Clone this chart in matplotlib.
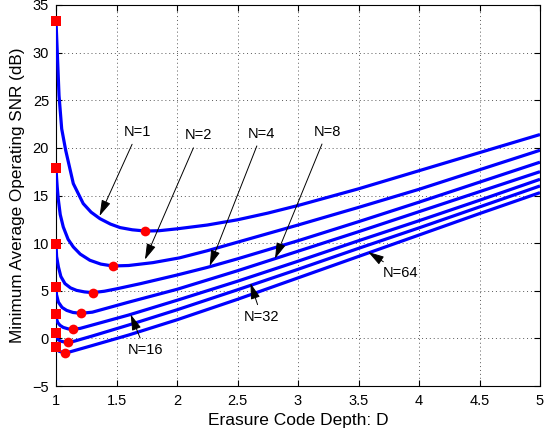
import matplotlib
matplotlib.use("Agg")
import matplotlib.pyplot as plt

plt.rcParams['font.family'] = ['Liberation Sans', 'DejaVu Sans']

# ---- data ----
N_labels = ["N=1", "N=2", "N=4", "N=8", "N=16", "N=32", "N=64"]

D_n1 = [1.0, 1.011, 1.025, 1.047, 1.08, 1.143, 1.225, 1.29, 1.363, 1.45, 1.53, 1.63, 1.737, 1.85, 2.0, 2.25, 2.5, 2.75, 3.0, 3.5, 4.0, 4.5, 5.0]
S_n1 = [33.3, 29.9, 25.5, 22.0, 19.75, 16.25, 14.15, 13.25, 12.57, 12.0, 11.63, 11.4, 11.27, 11.3, 11.5, 11.9, 12.45, 13.15, 13.95, 15.7, 17.6, 19.5, 21.4]

D_n2 = [1.0, 1.005, 1.01, 1.02, 1.035, 1.06, 1.1, 1.143, 1.2, 1.28, 1.37, 1.468, 1.6, 1.8, 2.02, 2.25, 2.5, 2.75, 3.0, 3.5, 4.0, 4.5, 5.0]
S_n2 = [17.9, 16.8, 15.9, 14.5, 13.0, 11.7, 10.4, 9.6, 8.85, 8.2, 7.8, 7.6, 7.65, 7.95, 8.45, 9.2, 10.1, 11.0, 11.9, 13.75, 15.65, 17.7, 19.75]

D_n4 = [1.0, 1.005, 1.02, 1.04, 1.074, 1.12, 1.17, 1.235, 1.303, 1.4, 1.5, 1.7, 2.0, 2.25, 2.5, 3.0, 3.5, 4.0, 4.5, 5.0]
S_n4 = [9.9, 8.6, 7.5, 6.5, 5.75, 5.3, 5.04, 4.88, 4.8, 4.95, 5.2, 5.75, 6.65, 7.45, 8.35, 10.25, 12.25, 14.3, 16.4, 18.5]

D_n8 = [1.0, 1.004, 1.02, 1.05, 1.088, 1.14, 1.204, 1.3, 1.4, 1.6, 2.0, 2.5, 3.0, 3.5, 4.0, 4.5, 5.0]
S_n8 = [5.36, 4.6, 3.8, 3.25, 2.94, 2.72, 2.63, 2.75, 3.1, 3.8, 5.15, 7.1, 9.15, 11.2, 13.3, 15.4, 17.5]

D_n16 = [1.0, 1.005, 1.015, 1.033, 1.06, 1.1, 1.137, 1.2, 1.3, 1.6, 2.0, 2.5, 3.0, 3.5, 4.0, 4.5, 5.0]
S_n16 = [2.52, 2.0, 1.65, 1.37, 1.15, 1.0, 0.95, 1.05, 1.4, 2.45, 4.0, 6.0, 8.1, 10.25, 12.35, 14.5, 16.7]

D_n32 = [1.0, 1.006, 1.019, 1.04, 1.07, 1.10, 1.15, 1.3, 1.6, 2.0, 2.5, 3.0, 3.5, 4.0, 4.5, 5.0]
S_n32 = [0.56, 0.15, -0.15, -0.3, -0.38, -0.42, -0.3, 0.25, 1.4, 3.0, 5.1, 7.25, 9.45, 11.6, 13.8, 16.0]

D_n64 = [1.0, 1.008, 1.025, 1.05, 1.074, 1.12, 1.3, 1.6, 2.0, 2.5, 3.0, 3.5, 4.0, 4.5, 5.0]
S_n64 = [-0.91, -1.15, -1.35, -1.45, -1.5, -1.4, -0.75, 0.35, 1.95, 4.1, 6.35, 8.6, 10.85, 13.1, 15.3]

D_curves = [D_n1, D_n2, D_n4, D_n8, D_n16, D_n32, D_n64]
S_curves = [S_n1, S_n2, S_n4, S_n8, S_n16, S_n32, S_n64]

# starting points (D = 1) and minima
start_D = [1.0] * 7
start_S = [33.3, 17.9, 9.9, 5.36, 2.52, 0.56, -0.91]
min_D = [1.737, 1.468, 1.303, 1.204, 1.137, 1.10, 1.074]
min_S = [11.27, 7.6, 4.8, 2.63, 0.95, -0.42, -1.5]

# annotation text positions and arrow tips (data coords)
text_D = [1.675, 2.18, 2.70, 3.24, 1.736, 2.70, 3.85]
text_S = [21.67, 21.3, 21.5, 21.7, -1.26, 2.24, 6.86]
tip_D = [1.36, 1.735, 2.27, 2.81, 1.617, 2.607, 3.58]
tip_S = [12.85, 8.27, 7.6, 8.37, 2.52, 5.8, 9.07]

xticks = [1, 1.5, 2, 2.5, 3, 3.5, 4, 4.5, 5]
xtick_labels = ["1", "1.5", "2", "2.5", "3", "3.5", "4", "4.5", "5"]
yticks = [-5, 0, 5, 10, 15, 20, 25, 30, 35]
ytick_labels = ["\u22125", "0", "5", "10", "15", "20", "25", "30", "35"]

# ---- plot ----
fig = plt.figure(figsize=(5.45, 4.34), dpi=100)
ax = fig.add_axes([56/545, 48/434, 484/545, 381/434])

for D, S in zip(D_curves, S_curves):
    ax.plot(D, S, color=(0, 0, 1), lw=2.3, solid_capstyle='butt',
            solid_joinstyle='round', zorder=3)

ax.plot(start_D, start_S, linestyle='none', marker='s', color='red',
        markersize=6.5, markeredgewidth=0, zorder=5, clip_on=False)
ax.plot(min_D, min_S, linestyle='none', marker='o', color='red',
        markersize=7, markeredgewidth=0, zorder=5)

for lab, tx, ty, px, py in zip(N_labels, text_D, text_S, tip_D, tip_S):
    ax.annotate(lab, xy=(px, py), xytext=(tx, ty), ha='center', va='center',
                fontsize=10.5, zorder=6,
                arrowprops=dict(arrowstyle='-|>,head_length=0.75,head_width=0.22',
                                mutation_scale=13, color='k', lw=0.7,
                                shrinkA=2, shrinkB=0))

ax.set_xlim(1, 5)
ax.set_ylim(-5, 35)
ax.set_xticks(xticks)
ax.set_xticklabels(xtick_labels)
ax.set_yticks(yticks)
ax.set_yticklabels(ytick_labels)
ax.tick_params(direction='in', length=4, width=0.8, labelsize=10.5,
               top=True, right=True)
ax.tick_params(axis='x', pad=6)
ax.tick_params(axis='y', pad=5)
ax.grid(True, linestyle=(0, (1, 3)), color='0.35', linewidth=0.7)
for sp in ax.spines.values():
    sp.set_linewidth(0.8)

ax.set_xlabel("Erasure Code Depth: D", fontsize=12.5, labelpad=3)
ax.set_ylabel("Minimum Average Operating SNR (dB)", fontsize=12.3, labelpad=5)

fig.savefig("out.png", dpi=100)
